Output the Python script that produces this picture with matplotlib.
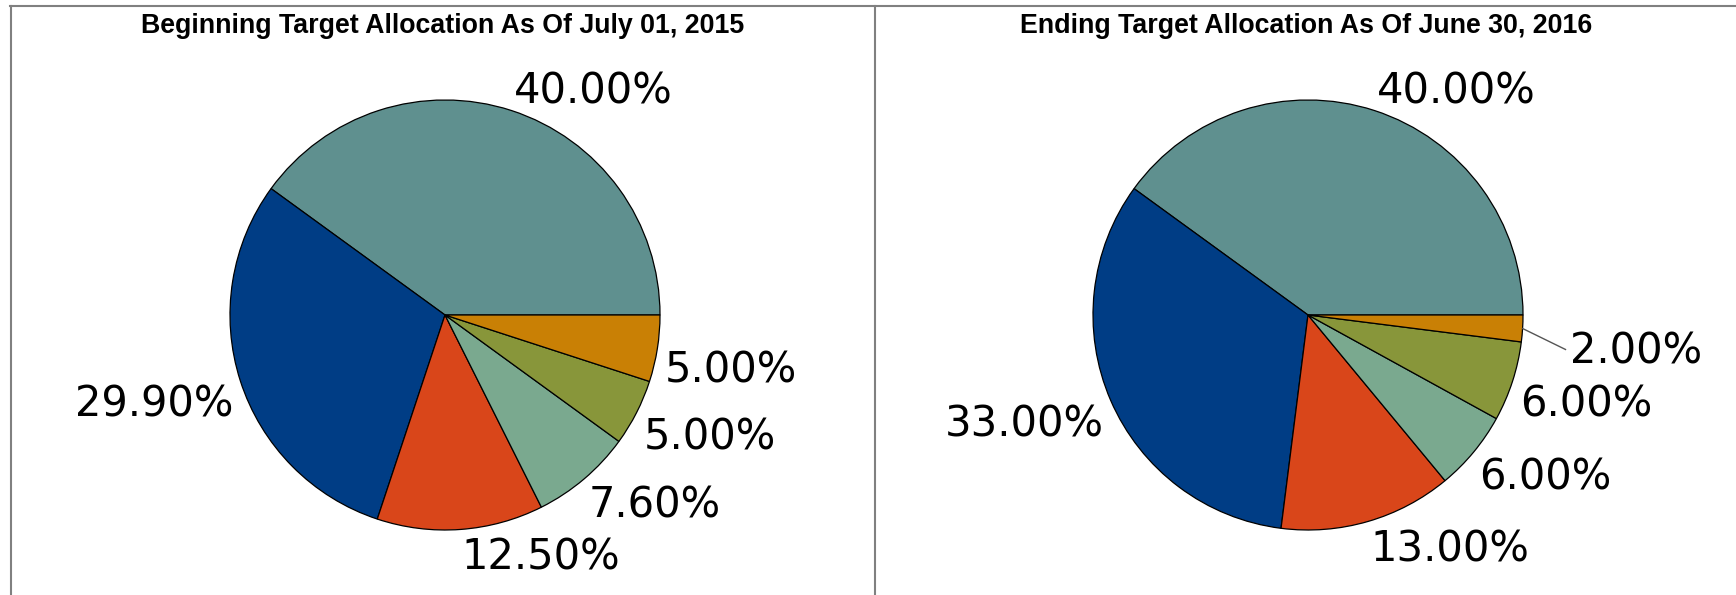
import numpy as np
import matplotlib
matplotlib.use("Agg")
import matplotlib.pyplot as plt
from matplotlib.lines import Line2D

# allocation data (percent)
begin_title = "Beginning Target Allocation As Of July 01, 2015"
end_title = "Ending Target Allocation As Of June 30, 2016"
begin_values = [40.0, 29.9, 12.5, 7.6, 5.0, 5.0]
end_values = [40.0, 33.0, 13.0, 6.0, 6.0, 2.0]
slice_colors = ["#5f908f", "#003d85", "#d9461a", "#7aa98f", "#88963a", "#c98005"]

W, H = 1736, 595
R = 215.0  # pie radius, px
fig = plt.figure(figsize=(W / 100, H / 100), dpi=100)


def draw_pie(cx, cy, values, title, tx):
    half_w, half_h = 420, 270
    ax = fig.add_axes([(cx - half_w) / W, (H - cy - half_h) / H,
                       2 * half_w / W, 2 * half_h / H])
    labels = ["%.2f%%" % v for v in values]
    wedges, texts = ax.pie(values, colors=slice_colors, startangle=0,
                           counterclock=True, labels=labels, labeldistance=1.035,
                           wedgeprops=dict(edgecolor="black", linewidth=0.9),
                           textprops=dict(fontsize=30, family="DejaVu Sans"))
    ax.set_xlim(-half_w / R, half_w / R)
    ax.set_ylim(-half_h / R, half_h / R)
    ax.set_aspect("auto")
    ax.axis("off")
    for w, t, v in zip(wedges, texts, values):
        a = np.deg2rad((w.theta1 + w.theta2) / 2)
        if v < 3:
            # small slice: leader line and label pushed out
            x0, y0 = np.cos(a), np.sin(a)
            x1, y1 = 1.2 * np.cos(a), 1.2 * np.sin(a) - 0.085
            ax.plot([x0, x1], [y0, y1], color="#555555", lw=1.0)
            t.set_position((x1 + 0.02, y1 - 0.01))
            t.set_ha("left")
        elif np.sin(a) < 0:
            t.set_va("top")
        else:
            t.set_va("baseline")
    fig.text(tx / W, 1 - 26 / H, title, ha="center", va="center",
             fontsize=19.3, fontweight="bold",
             family=["Liberation Sans Narrow", "Liberation Sans"])


draw_pie(445, 315, begin_values, begin_title, 443)
draw_pie(1308, 315, end_values, end_title, 1306)

# panel frame
gray = "#808080"
lw = 1.5
fig.add_artist(Line2D([10 / W, 1], [1 - 6 / H, 1 - 6 / H], color=gray, lw=lw))
fig.add_artist(Line2D([11 / W, 11 / W], [0, 1 - 6 / H], color=gray, lw=lw))
fig.add_artist(Line2D([875 / W, 875 / W], [0, 1 - 6 / H], color=gray, lw=lw))

fig.savefig("out.png", dpi=100, facecolor="white")
